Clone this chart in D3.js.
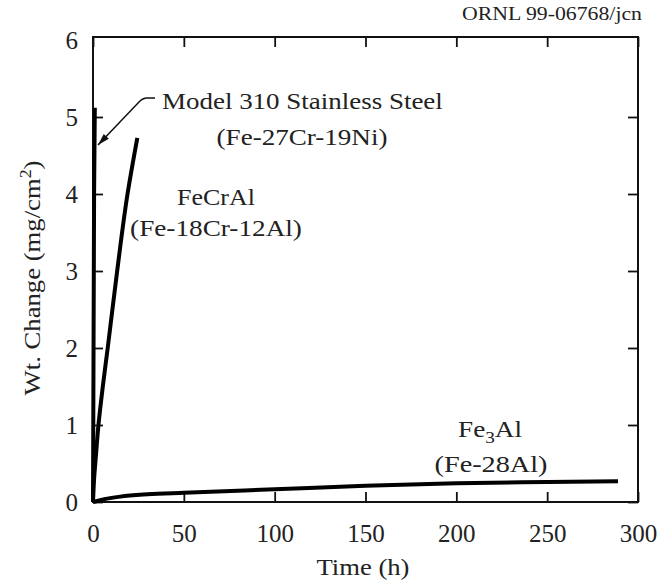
<!DOCTYPE html>
<html>
<head>
<meta charset="utf-8">
<script src="https://cdn.jsdelivr.net/npm/d3@7"></script>
<style>
  body { margin: 0; background: #fff; }
  text { font-family: "Liberation Serif", "Times New Roman", serif; fill: #222; }
</style>
</head>
<body>
<div id="chart"></div>
<script>
// data
var ss310Time = [0, 0.3, 0.6, 1];
var ss310Wt = [0, 2.0, 4.0, 5.12];
var fecralTime = [0, 0.6, 1.6, 3.0, 5.4, 8.1, 13.3, 19.0, 24.4];
var fecralWt = [0, 0.3, 0.6, 1.0, 1.5, 2.0, 3.0, 4.0, 4.73];
var fe3alTime = [0, 5, 15, 30, 50, 100, 150, 200, 250, 289];
var fe3alWt = [0, 0.03, 0.07, 0.10, 0.12, 0.165, 0.21, 0.245, 0.26, 0.27];
var xTicks = [0, 50, 100, 150, 200, 250, 300];
var yTicks = [0, 1, 2, 3, 4, 5, 6];

function drawchart() {
  var margin = {top: 40, right: 32, bottom: 84, left: 93},
      width = 670 - margin.left - margin.right,
      height = 586 - margin.top - margin.bottom;

  var svg = d3.select("#chart").append("svg")
      .attr("width", 670)
      .attr("height", 586);

  var g = svg.append("g")
      .attr("transform", "translate(" + margin.left + "," + margin.top + ")");

  var x = d3.scaleLinear().domain([0, 300]).range([0, width]);
  var y = d3.scaleLinear().domain([0, 6]).range([height, 0]);

  // frame (top edge sits a little above the 6 tick)
  g.append("rect")
    .attr("x", 0).attr("y", -3)
    .attr("width", width).attr("height", height + 3)
    .attr("fill", "none").attr("stroke", "#111").attr("stroke-width", 2);

  // inward ticks on all four sides
  var tl = 10;
  g.append("g").attr("class", "axis")
    .attr("transform", "translate(0," + height + ")")
    .call(d3.axisBottom(x).tickValues(xTicks).tickSizeInner(-tl).tickSizeOuter(0)
      .tickPadding(22).tickFormat(d3.format("d")));
  g.append("g").attr("class", "axis")
    .attr("transform", "translate(0,-3)")
    .call(d3.axisTop(x).tickValues(xTicks).tickSizeInner(-tl).tickSizeOuter(0).tickFormat(""));
  g.append("g").attr("class", "axis")
    .call(d3.axisLeft(y).tickValues(yTicks).tickSizeInner(-tl).tickSizeOuter(0)
      .tickPadding(15).tickFormat(d3.format("d")));
  g.append("g").attr("class", "axis")
    .attr("transform", "translate(" + width + ",0)")
    .call(d3.axisRight(y).tickValues(yTicks).tickSizeInner(-tl).tickSizeOuter(0).tickFormat(""));

  g.selectAll(".axis path").remove();
  g.selectAll(".axis line").attr("stroke", "#111").attr("stroke-width", 1.8);
  g.selectAll(".axis text").style("font-family", "Liberation Serif, serif")
    .style("font-size", "25px").attr("fill", "#333");
  g.selectAll(".axis .tick").filter(function(d) { return d === 6; })
    .select("line").remove();

  var line = d3.line()
    .x(function(d) { return x(d[0]); })
    .y(function(d) { return y(d[1]); });

  var series = [
    {pts: d3.zip(ss310Time, ss310Wt), curve: d3.curveLinear},
    {pts: d3.zip(fecralTime, fecralWt), curve: d3.curveMonotoneY},
    {pts: d3.zip(fe3alTime, fe3alWt), curve: d3.curveMonotoneX}
  ];
  g.selectAll(".curve").data(series).enter().append("path")
    .attr("class", "curve")
    .attr("fill", "none")
    .attr("stroke", "#000")
    .attr("stroke-width", 4)
    .attr("stroke-linejoin", "round")
    .attr("d", function(d) { return line.curve(d.curve)(d.pts); });

  // labels, stretched to the widths seen in the picture
  function lab(cx, by, s, size, w, anchor) {
    var t = svg.append("text").attr("text-anchor", anchor || "middle")
      .style("font-size", size + "px");
    if (typeof s === "function") s(t); else t.text(s);
    var nat = t.node().getComputedTextLength();
    var sx = w ? w / nat : 1;
    t.attr("transform", "translate(" + cx + "," + by + ") scale(" + sx + ",1)");
    return t;
  }
  lab(162, 109, "Model 310 Stainless Steel", 24, 281, "start");
  lab(302, 145, "(Fe-27Cr-19Ni)", 24, 171);
  lab(216, 205, "FeCrAl", 24, 78);
  lab(216, 236, "(Fe-18Cr-12Al)", 24, 172);
  lab(490, 437, function(t) {
    t.append("tspan").text("Fe");
    t.append("tspan").attr("dy", 6).style("font-size", "17px").text("3");
    t.append("tspan").attr("dy", -6).text("Al");
  }, 24, 64);
  lab(491, 472, "(Fe-28Al)", 24, 113);

  // arrow to the 310 SS curve
  svg.append("defs").append("marker")
    .attr("id", "ah").attr("viewBox", "0 0 12 8")
    .attr("refX", 12).attr("refY", 4)
    .attr("markerWidth", 13).attr("markerHeight", 8)
    .attr("markerUnits", "userSpaceOnUse")
    .attr("orient", "auto")
    .append("path").attr("d", "M0,0.5 L12,4 L0,7.5 Z").attr("fill", "#111");
  svg.append("path")
    .attr("d", "M155,98 L147,98 Q143,98 139,102 L98,145")
    .attr("fill", "none").attr("stroke", "#111").attr("stroke-width", 1.5)
    .attr("marker-end", "url(#ah)");

  // axis titles
  var yt = svg.append("text")
    .attr("text-anchor", "middle").style("font-size", "24px")
    .html('Wt. Change (mg/cm<tspan dy="-9" font-size="16px">2</tspan><tspan dy="9">)</tspan>');
  var ytw = yt.node().getComputedTextLength();
  yt.attr("transform", "translate(40,278) rotate(-90) scale(" + (235 / ytw) + ",1)");
  lab(363, 575, "Time (h)", 24, 93);

  lab(642, 20, "ORNL 99-06768/jcn", 18, 180, "end");
}

drawchart();
</script>
</body>
</html>
